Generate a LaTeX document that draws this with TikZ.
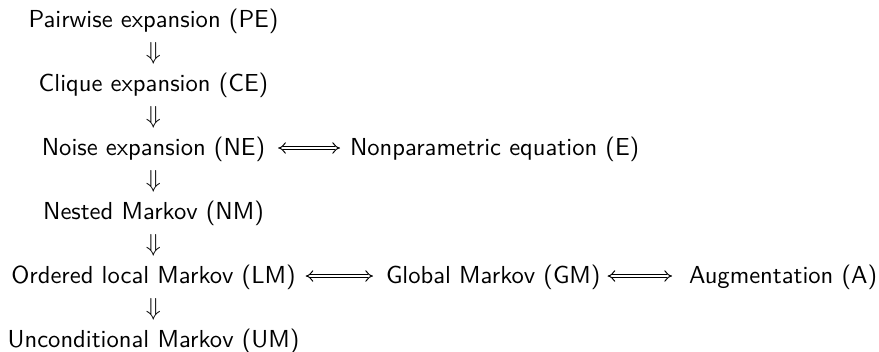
\documentclass[tikz,border=0pt]{standalone}
\usetikzlibrary{arrows.meta,calc}
\begin{document}
\begin{tikzpicture}[x=0.4065pt,y=-0.4065pt,
  txt/.style={inner sep=0pt,outer sep=0pt,font=\sffamily,anchor=base},
  txtw/.style={txt,anchor=base west},
  downsym/.style={inner sep=0pt,font=\normalsize},
  iffarrow/.style={double,double distance=1.2pt,line width=0.4pt,{Implies}-{Implies}}]
\useasboundingbox (0,0) rectangle (879,351);
\node[txt] (pe) at (153.5,27) {Pairwise expansion (PE)};
\node[txt] (ce) at (153.5,91) {Clique expansion (CE)};
\node[txt] (ne) at (153.5,155) {Noise expansion (NE)};
\node[txt] (nm) at (153.5,219) {Nested Markov (NM)};
\node[txt] (lm) at (153.5,283) {Ordered local Markov (LM)};
\node[txt] (um) at (153.5,347) {Unconditional Markov (UM)};
\node[txtw] (e) at (350,155) {Nonparametric equation (E)};
\node[txtw] (gm) at (386,283) {Global Markov (GM)};
\node[txtw] (a) at (689,283) {Augmentation (A)};
\path (pe) -- node[downsym] {$\Downarrow$} (ce);
\path (ce) -- node[downsym] {$\Downarrow$} (ne);
\path (ne) -- node[downsym] {$\Downarrow$} (nm);
\path (nm) -- node[downsym] {$\Downarrow$} (lm);
\path (lm) -- node[downsym] {$\Downarrow$} (um);
\draw[iffarrow] ($(ne.base east)+(13,-7)$) -- ($(e.base west)+(-10,-7)$);
\draw[iffarrow] ($(lm.base east)+(10,-7)$) -- ($(gm.base west)+(-13,-7)$);
\draw[iffarrow] ($(gm.base east)+(7,-7)$) -- ($(a.base west)+(-17,-7)$);
\end{tikzpicture}
\end{document}
